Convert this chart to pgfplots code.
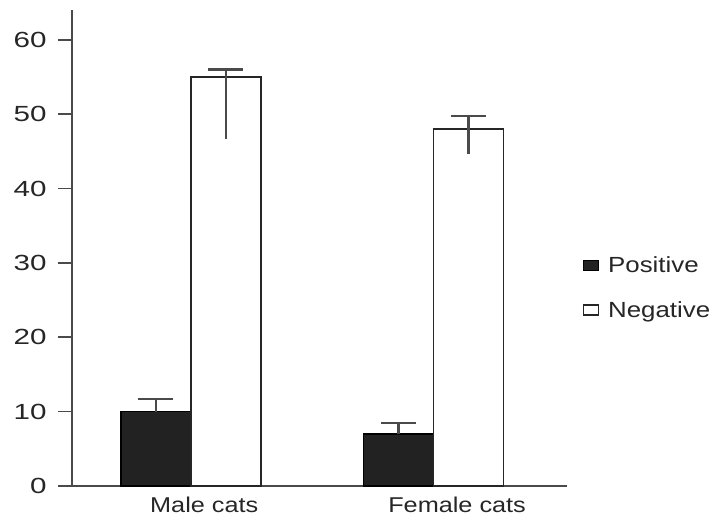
\documentclass[border=0pt]{standalone}
\usepackage{fontspec}
\setmainfont[FakeStretch=1.18]{Liberation Sans}
\newfontfamily\tickfont[FakeStretch=1.35]{Liberation Sans}
\usepackage{pgfplots}
\pgfplotsset{compat=1.18}
\definecolor{barblack}{HTML}{222222}
\definecolor{axisgray}{HTML}{4A4A4A}
\begin{document}
\begin{tikzpicture}
\useasboundingbox (0,0) rectangle (713bp,515bp);
\begin{axis}[
  at={(72bp,29bp)}, anchor=south west,
  scale only axis,
  width=495bp, height=476bp,
  xmin=-0.49, xmax=1.55,
  ymin=0, ymax=64,
  ybar=0pt, bar width=70bp,
  axis x line=bottom, axis y line=left,
  axis line style={-, line width=1.6bp, axisgray},
  xtick={0.055,1.097},
  xticklabels={Male cats, Female cats},
  major x tick style={draw=none},
  ytick={0,10,...,60},
  y tick style={line width=1.6bp, axisgray},
  tick align=outside,
  major tick length=14bp,
  /pgf/number format/assume math mode=true,
  yticklabel style={font=\tickfont\fontsize{22}{24}\selectfont, text=black!85, xshift=-8bp},
  xticklabel style={font=\fontsize{21.5}{24}\selectfont, text=black!85, yshift=7bp},
  legend style={at={(1.025,0.49)}, anchor=north west, draw=none, fill=none,
    font=\fontsize{22}{24}\selectfont, row sep=23bp, text=black!85},
  legend cell align=left,
  legend image code/.code={\draw[#1] (0bp,-5bp) rectangle (15bp,5bp); \path (22bp,0bp);},
  clip=false,
]
\addplot[fill=barblack, draw=black, line width=1.6bp, bar shift=-35bp,
  error bars/.cd, y dir=plus, y explicit,
  error bar style={line width=2.2bp, color=axisgray},
  error mark options={rotate=90, mark size=17.5bp, line width=2.2bp, color=axisgray}]
  table[x=x, y=y, y error plus=ep] {
x y ep
0 10 1.7
1 7 1.5
};
\addlegendentry{Positive}
\addplot[fill=white, draw=black!85, line width=1.6bp, bar shift=35bp,
  error bars/.cd, y dir=plus, y explicit,
  error bar style={line width=2.2bp, color=axisgray},
  error mark options={rotate=90, mark size=17.5bp, line width=2.2bp, color=axisgray}]
  table[x=x, y=y, y error plus=ep] {
x y ep
0 55 1.0
1 48 1.7
};
\addlegendentry{Negative}
\addplot[draw=none, fill=none, forget plot, bar shift=35bp,
  error bars/.cd, y dir=minus, y explicit,
  error bar style={line width=2.2bp, color=axisgray},
  error mark=none]
  table[x=x, y=y, y error minus=em] {
x y em
0 55 8.4
1 48 3.4
};
\end{axis}
\end{tikzpicture}
\end{document}
